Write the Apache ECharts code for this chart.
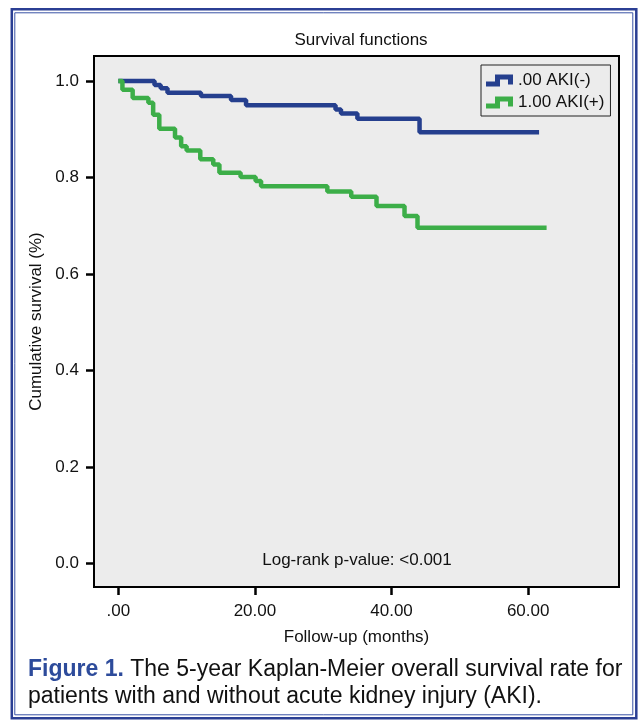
<!DOCTYPE html>
<html>
<head>
<meta charset="utf-8">
<script src="https://cdn.jsdelivr.net/npm/echarts@6/dist/echarts.min.js"></script>
<style>
  html, body { margin: 0; padding: 0; background: #fff; }
  #main { width: 641px; height: 727px; }
</style>
</head>
<body>
<div id="main"></div>
<script>
// Kaplan-Meier steps: [months, survival]
const akiNeg = [
  [0, 1.0], [5.3, 0.992], [6.2, 0.985], [7.2, 0.976], [12.1, 0.969],
  [16.5, 0.961], [18.7, 0.950], [31.8, 0.941], [32.6, 0.933], [35.0, 0.922],
  [44.1, 0.894], [61.6, 0.894]
];
const akiPos = [
  [0, 1.0], [0.6, 0.982], [2.1, 0.965], [4.4, 0.955], [5.1, 0.930],
  [6.0, 0.901], [8.3, 0.883], [9.2, 0.865], [10.0, 0.856], [12.0, 0.838],
  [13.9, 0.827], [14.8, 0.810], [17.9, 0.801], [20.1, 0.793], [20.9, 0.782],
  [30.6, 0.771], [34.1, 0.760], [37.8, 0.741], [41.9, 0.720], [43.8, 0.696],
  [62.7, 0.696]
];
const seriesNames = ['.00 AKI(-)', '1.00 AKI(+)'];
const xTicks = [0, 20, 40, 60];
const yTicks = [0, 0.2, 0.4, 0.6, 0.8, 1.0];

const font = 'Liberation Sans, Arial, Helvetica, sans-serif';
const stepIcon = 'path://M0,7 L9,7 L9,0 L27,0 L27,10 L22,10 L22,5 L14,5 L14,12 L0,12 Z';

const chart = echarts.init(document.getElementById('main'), null, { renderer: 'canvas' });

chart.setOption({
  backgroundColor: '#fff',
  animation: false,
  color: ['#253f8e', '#3cae48'],
  title: {
    text: 'Survival functions',
    left: 356, top: 27, textAlign: 'center',
    textStyle: { fontFamily: font, fontSize: 17, fontWeight: 'normal', color: '#111' }
  },
  legend: {
    data: seriesNames.map(n => ({ name: n, icon: stepIcon })),
    orient: 'vertical',
    left: 481, top: 65,
    padding: [7, 6, 5, 5],
    itemWidth: 27, itemHeight: 12, itemGap: 5,
    backgroundColor: '#ececec',
    borderColor: '#222', borderWidth: 1,
    textStyle: { fontFamily: font, fontSize: 17, color: '#111' }
  },
  grid: {
    left: 94, right: 22, top: 56, bottom: 140,
    show: true, backgroundColor: '#ececec',
    borderColor: '#000', borderWidth: 2
  },
  xAxis: {
    type: 'value', min: -3.56, max: 73.3,
    name: 'Follow-up (months)', nameLocation: 'middle', nameGap: 42,
    nameTextStyle: { fontFamily: font, fontSize: 17, color: '#111' },
    axisLine: { show: false, onZero: false },
    axisTick: { show: true, length: 8, customValues: xTicks, lineStyle: { color: '#000', width: 2.5 } },
    axisLabel: {
      customValues: xTicks, margin: 16,
      fontFamily: font, fontSize: 17, color: '#111',
      formatter: v => v === 0 ? '.00' : v.toFixed(2)
    },
    splitLine: { show: false }
  },
  yAxis: {
    type: 'value', min: -0.049, max: 1.052,
    name: 'Cumulative survival (%)', nameLocation: 'middle', nameGap: 47, nameRotate: 90,
    nameTextStyle: { fontFamily: font, fontSize: 17, color: '#111' },
    axisLine: { show: false, onZero: false },
    axisTick: { show: true, length: 8, customValues: yTicks, lineStyle: { color: '#000', width: 2.5 } },
    axisLabel: {
      customValues: yTicks, margin: 15,
      fontFamily: font, fontSize: 17, color: '#111',
      formatter: v => v.toFixed(1)
    },
    splitLine: { show: false }
  },
  series: [
    {
      name: seriesNames[0], type: 'line', step: 'end', data: akiNeg,
      symbol: 'none', lineStyle: { width: 4.5, color: '#253f8e' }
    },
    {
      name: seriesNames[1], type: 'line', step: 'end', data: akiPos,
      symbol: 'none', lineStyle: { width: 4.5, color: '#3cae48' }
    }
  ],
  graphic: [
    {
      type: 'rect', silent: true,
      shape: { x: 11.8, y: 9.2, width: 624.5, height: 709 },
      style: { fill: 'none', stroke: '#2b3f94', lineWidth: 2.5 }
    },
    {
      type: 'rect', silent: true,
      shape: { x: 14.8, y: 12.8, width: 618, height: 702 },
      style: { fill: 'none', stroke: '#3a53a6', lineWidth: 1 }
    },
    {
      type: 'text', silent: true,
      x: 357, y: 560,
      style: {
        text: 'Log-rank p-value: <0.001', align: 'center', verticalAlign: 'middle',
        font: '17px ' + font, fill: '#111'
      }
    },
    {
      type: 'text', silent: true,
      x: 28, y: 656,
      style: {
        text: '{b|Figure 1.} The 5-year Kaplan-Meier overall survival rate for\npatients with and without acute kidney injury (AKI).',
        font: '23px ' + font, fill: '#111', lineHeight: 27,
        rich: {
          b: { font: 'bold 23px ' + font, fill: '#2d4b9b', lineHeight: 27 }
        }
      }
    }
  ]
});
</script>
</body>
</html>
